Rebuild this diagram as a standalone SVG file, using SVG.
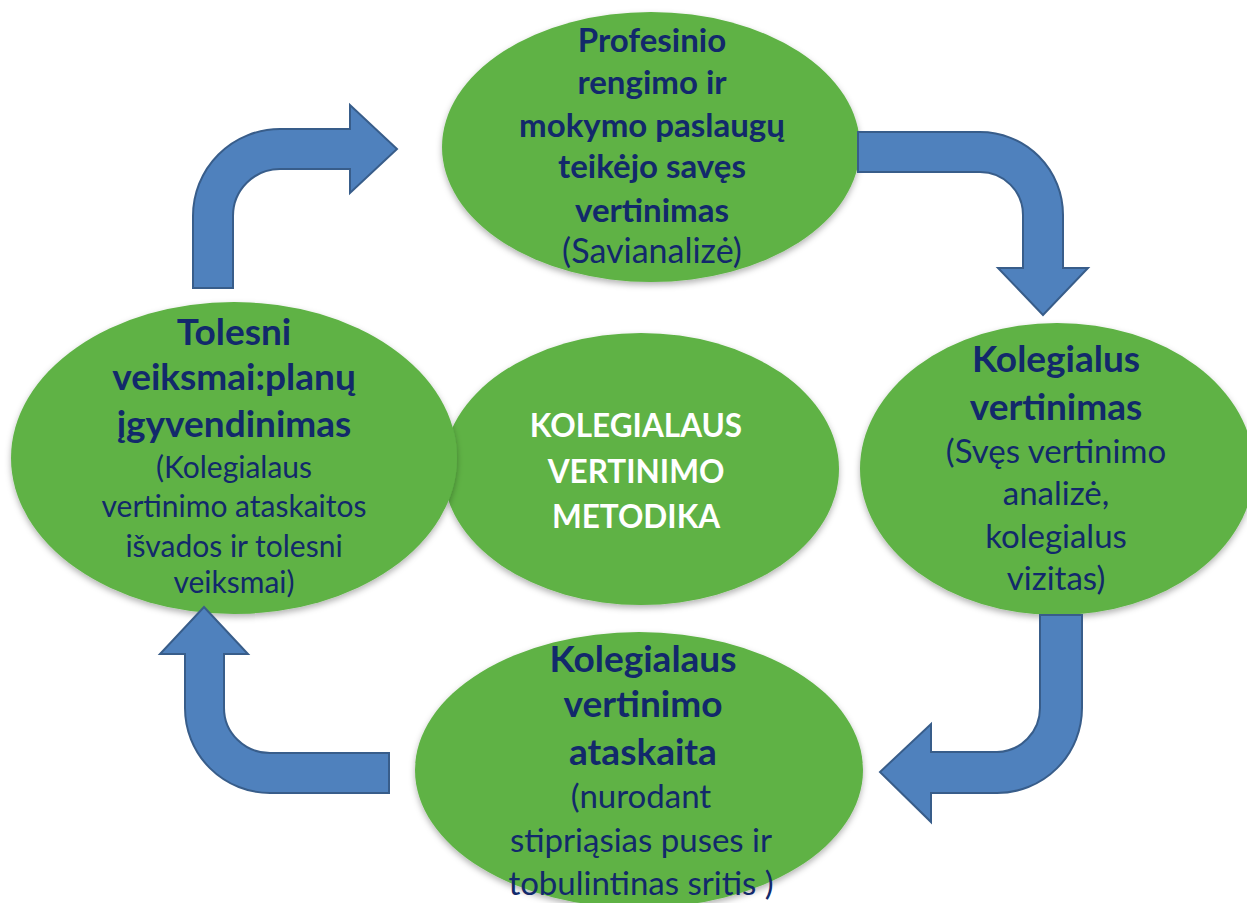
<svg xmlns="http://www.w3.org/2000/svg" width="1247" height="903" viewBox="0 0 1247 903">
<defs>
<filter id="sh" x="-10%" y="-10%" width="120%" height="125%">
<feDropShadow dx="0" dy="3" stdDeviation="3" flood-color="#000" flood-opacity="0.3"/>
</filter>
<style>
.node{fill:#5eb245;filter:url(#sh)}
.arrow{fill:#4f81bd;stroke:#385d8a;stroke-width:2;stroke-linejoin:miter}
text{font-family:Lato,"Open Sans","Liberation Sans",sans-serif;text-anchor:middle;fill:#12296b}
.b{font-weight:bold;font-size:37px}
.bt{font-weight:bold;font-size:33px}
.rt{font-size:34px}
.rl{font-size:30px}
.r{font-size:33px}
.w{fill:#ffffff;font-weight:bold;font-size:31.5px}
</style>
</defs>
<rect width="1247" height="903" fill="#ffffff"/>
<g id="center">
<ellipse class="node" cx="641" cy="469" rx="198" ry="136"/>
<text class="w" x="636" y="437">KOLEGIALAUS</text>
<text class="w" x="636" y="483">VERTINIMO</text>
<text class="w" x="636" y="528">METODIKA</text>
</g>
<g id="left">
<ellipse class="node" cx="234" cy="458" rx="223" ry="156"/>
<text class="b" x="234" y="345">Tolesni</text>
<text class="b" x="234" y="390">veiksmai:planų</text>
<text class="b" x="234" y="437">įgyvendinimas</text>
<text class="rl" x="234" y="478">(Kolegialaus</text>
<text class="rl" x="234" y="517">vertinimo ataskaitos</text>
<text class="rl" x="234" y="557">išvados ir tolesni</text>
<text class="rl" x="234" y="593">veiksmai)</text>
</g>
<g id="top">
<ellipse class="node" cx="651" cy="147" rx="209" ry="135"/>
<text class="bt" x="652" y="52">Profesinio</text>
<text class="bt" x="652" y="94">rengimo ir</text>
<text class="bt" x="652" y="137">mokymo paslaugų</text>
<text class="bt" x="652" y="178">teikėjo savęs</text>
<text class="bt" x="652" y="222">vertinimas</text>
<text class="rt" x="652" y="263">(Savianalizė)</text>
</g>
<g id="right">
<ellipse class="node" cx="1057" cy="469" rx="197" ry="146"/>
<text class="b" x="1056" y="372">Kolegialus</text>
<text class="b" x="1056" y="420">vertinimas</text>
<text class="r" x="1056" y="463">(Svęs vertinimo</text>
<text class="r" x="1056" y="505">analizė,</text>
<text class="r" x="1056" y="548">kolegialus</text>
<text class="r" x="1056" y="590">vizitas)</text>
</g>
<g id="bottom">
<ellipse class="node" cx="639" cy="770" rx="224" ry="138"/>
<text class="b" x="643" y="672">Kolegialaus</text>
<text class="b" x="643" y="717">vertinimo</text>
<text class="b" x="643" y="765">ataskaita</text>
<text class="r" x="641" y="808">(nurodant</text>
<text class="r" x="641" y="852">stipriąsias puses ir</text>
<text class="r" x="641" y="895">tobulintinas sritis )</text>
</g>
<g id="connectors">
<path class="arrow" d="M193,288 L193,216 A87,87 0 0 1 280,129 L350,129 L350,105 L397,149 L350,193 L350,169 L280,169 A47,47 0 0 0 233,216 L233,288 Z"/>
<path class="arrow" d="M858,132 L980,132 A83,83 0 0 1 1063,215 L1063,268 L1088,268 L1043,315 L998,268 L1023,268 L1023,215 A43,43 0 0 0 980,172 L858,172 Z"/>
<path class="arrow" d="M1040,615 L1082,615 L1082,708 A85,85 0 0 1 997,793 L931,793 L931,822 L880,772 L931,724 L931,752 L997,752 A44,44 0 0 0 1040,708 Z"/>
<path class="arrow" d="M389,753 L389,793 L270,793 A85,85 0 0 1 185,708 L185,654 L160,654 L204,607 L248,654 L224,654 L224,708 A46,45 0 0 0 270,753 Z"/>
</g>
</svg>
